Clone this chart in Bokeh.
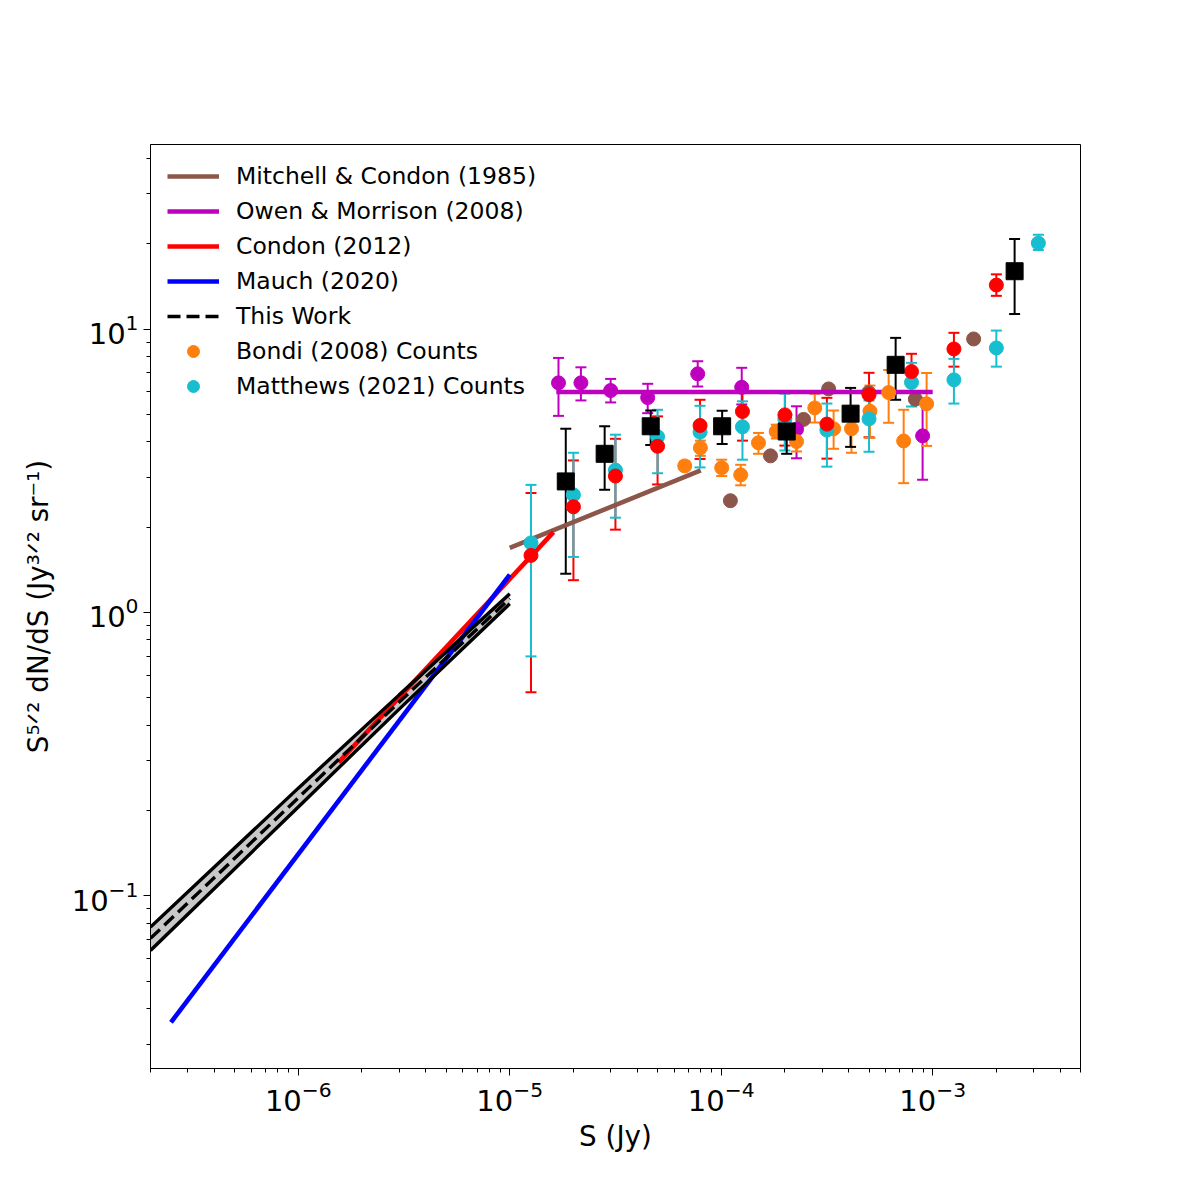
from bokeh.plotting import figure
from bokeh.models import ColumnDataSource, Range1d, Legend, LegendItem
from bokeh.embed import file_html
from bokeh.resources import INLINE

# ---------------- data ----------------
# This Work: counts (black squares)
tw_S = [1.84e-5, 2.81e-5, 4.64e-5, 1.01e-4, 2.04e-4, 4.09e-4, 6.68e-4, 2.44e-3]
tw_Y = [2.90, 3.63, 4.54, 4.54, 4.35, 5.03, 7.48, 16.0]
tw_hi = [4.45, 4.54, 5.16, 5.15, 5.00, 6.20, 9.31, 20.8]
tw_lo = [1.37, 2.71, 3.90, 3.93, 3.63, 3.84, 5.63, 11.3]

# Owen & Morrison (2008) counts (magenta)
om_S = [1.70e-5, 2.17e-5, 3.0e-5, 4.49e-5, 7.74e-5, 1.25e-4, 2.27e-4, 8.96e-4]
om_Y = [6.46, 6.46, 6.07, 5.73, 6.95, 6.23, 4.43, 4.20]
om_hi = [7.91, 7.33, 6.67, 6.41, 7.70, 7.30, 5.34, 5.69]
om_lo = [4.94, 5.60, 5.51, 5.05, 6.27, 5.42, 3.50, 2.94]

# Condon (2012) counts (red)
c12_S = [1.26e-5, 2.0e-5, 3.16e-5, 5.0e-5, 7.94e-5, 1.26e-4, 2.0e-4, 3.16e-4, 5.0e-4, 7.94e-4, 1.26e-3, 2.0e-3]
c12_Y = [1.59, 2.36, 3.03, 3.86, 4.57, 5.12, 4.98, 4.62, 5.87, 7.08, 8.51, 14.3]
c12_hi = [2.64, 3.44, 4.10, 4.92, 5.63, 6.02, 6.03, 5.72, 7.01, 8.18, 9.70, 15.6]
c12_lo = [0.523, 1.30, 1.96, 2.83, 3.48, 4.04, 3.88, 3.49, 4.15, 5.97, 7.37, 13.1]

# Matthews (2021) counts (cyan)
m21_S = [1.26e-5, 2.0e-5, 3.16e-5, 5.0e-5, 7.94e-5, 1.26e-4, 2.0e-4, 3.16e-4, 5.0e-4, 7.94e-4, 1.26e-3, 2.0e-3, 3.16e-3]
m21_Y = [1.76, 2.60, 3.18, 4.17, 4.33, 4.52, 4.81, 4.40, 4.82, 6.48, 6.62, 8.58, 20.1]
m21_hi = [2.82, 3.66, 4.24, 5.19, 5.36, 5.56, 5.92, 5.46, 5.60, 7.60, 7.85, 9.88, 21.5]
m21_lo = [0.70, 1.57, 2.16, 3.10, 3.25, 3.46, 3.73, 3.27, 3.69, 5.33, 5.46, 7.37, 19.0]

# Bondi (2008) counts (orange)
b08_S = [6.72e-5, 7.97e-5, 1.005e-4, 1.236e-4, 1.50e-4, 1.82e-4, 2.27e-4, 2.77e-4, 3.40e-4, 4.13e-4, 5.05e-4, 6.19e-4, 7.29e-4, 9.36e-4]
b08_Y = [3.29, 3.81, 3.24, 3.06, 3.97, 4.35, 4.01, 5.27, 4.45, 4.45, 5.13, 5.97, 4.03, 5.45]
b08_hi = [3.41, 4.04, 3.46, 3.32, 4.30, 4.60, 4.31, 5.91, 5.16, 4.83, 6.32, 7.17, 5.19, 7.00]
b08_lo = [3.18, 3.57, 3.03, 2.81, 3.63, 4.11, 3.70, 4.68, 3.78, 3.66, 4.13, 4.67, 2.86, 3.87]

# Mitchell & Condon (1985) counts (brown points)
mc_S = [1.105e-4, 1.71e-4, 2.45e-4, 3.22e-4, 4.98e-4, 8.28e-4, 1.562e-3]
mc_Y = [2.48, 3.57, 4.80, 6.15, 5.97, 5.66, 9.23]

# model curves
mc85_S = [1.0e-5, 8.0e-5]
mc85_Y = [1.69, 3.17]
om08_S = [1.66e-5, 1.0e-3]
om08_Y = [6.0, 6.0]
c12l_S = [1.55e-6, 1.61e-5]
c12l_Y = [0.296, 1.92]
m20_S = [2.5e-7, 1.0e-5]
m20_Y = [0.0358, 1.36]
twl_S = [2.0e-7, 1.0e-6, 3.0e-6, 1.0e-5]
twl_Y = [0.0708, 0.222, 0.483, 1.12]
twl_hi = [0.0776, 0.240, 0.512, 1.164]
twl_lo = [0.0642, 0.206, 0.456, 1.073]

# ---------------- figure ----------------
FONT = "DejaVu Sans"
p = figure(x_axis_type="log", y_axis_type="log",
           x_range=Range1d(2e-7, 5e-3), y_range=Range1d(0.0246, 44.8),
           frame_width=930, frame_height=924,
           min_border_left=150, min_border_right=104,
           min_border_top=144, min_border_bottom=116,
           output_backend="svg", toolbar_location=None)
p.xgrid.visible = False
p.ygrid.visible = False
p.outline_line_color = "black"
p.outline_line_width = 1
p.outline_line_alpha = 1
p.background_fill_color = "white"
p.border_fill_color = "white"

p.xaxis.axis_label = "S (Jy)"
p.yaxis.axis_label = "S\u2075\u141f\u00b2 dN/dS (Jy\u00b3\u141f\u00b2 sr\u207b\u00b9)"
for ax in (p.xaxis[0], p.yaxis[0]):
    ax.major_label_text_font = FONT
    ax.major_label_text_font_size = "29px"
    ax.major_label_text_color = "black"
    ax.axis_label_text_font = FONT
    ax.axis_label_text_font_size = "27.8px"
    ax.axis_label_text_font_style = "normal"
    ax.axis_label_text_color = "black"
    ax.axis_line_color = "black"
    ax.major_tick_line_color = "black"
    ax.minor_tick_line_color = "black"
    ax.major_tick_out = 7
    ax.major_tick_in = 0
    ax.minor_tick_out = 4
    ax.minor_tick_in = 0
p.xaxis.axis_label_standoff = 6
p.yaxis.axis_label_standoff = 14

C_BROWN = "#8c564b"
C_MAG = "#bf00bf"
C_RED = "#ff0000"
C_BLUE = "#0000ff"
C_ORANGE = "#ff7f0e"
C_CYAN = "#17becf"
LW = 4.6
MS = 14


def errbars(S, lo, hi, color):
    src = ColumnDataSource(dict(x=S, lo=lo, hi=hi))
    p.segment(x0="x", y0="lo", x1="x", y1="hi", source=src,
              line_color=color, line_width=2)
    p.scatter(x="x", y="lo", source=src, marker="dash", size=11,
              line_color=color, line_width=2)
    p.scatter(x="x", y="hi", source=src, marker="dash", size=11,
              line_color=color, line_width=2)


# error bars (below everything)
errbars(om_S, om_lo, om_hi, C_MAG)
errbars(c12_S, c12_lo, c12_hi, C_RED)
errbars(b08_S, b08_lo, b08_hi, C_ORANGE)
errbars(m21_S, m21_lo, m21_hi, C_CYAN)
errbars(tw_S, tw_lo, tw_hi, "black")

# brown points
p.scatter(mc_S, mc_Y, marker="circle", size=MS, fill_color=C_BROWN, line_color=C_BROWN)

# model lines
r_mc = p.line(mc85_S, mc85_Y, line_color=C_BROWN, line_width=LW)
r_om = p.line(om08_S, om08_Y, line_color=C_MAG, line_width=LW)
band_src = ColumnDataSource(dict(x=twl_S, y=twl_Y, lo=twl_lo, hi=twl_hi))
p.varea(x="x", y1="lo", y2="hi", source=band_src, fill_color="#c8c8c8")
r_c12 = p.line(c12l_S, c12l_Y, line_color=C_RED, line_width=LW)
r_m20 = p.line(m20_S, m20_Y, line_color=C_BLUE, line_width=LW)
p.line(x="x", y="lo", source=band_src, line_color="black", line_width=3.4)
p.line(x="x", y="hi", source=band_src, line_color="black", line_width=3.4)
r_tw = p.line(x="x", y="y", source=band_src, line_color="black", line_width=3.4,
              line_dash="13 6")

# markers
p.scatter(om_S, om_Y, marker="circle", size=MS, fill_color=C_MAG, line_color=C_MAG)
r_b08 = p.scatter(b08_S, b08_Y, marker="circle", size=MS, fill_color=C_ORANGE, line_color=C_ORANGE)
r_m21 = p.scatter(m21_S, m21_Y, marker="circle", size=MS, fill_color=C_CYAN, line_color=C_CYAN)
p.scatter(c12_S, c12_Y, marker="circle", size=MS, fill_color=C_RED, line_color=C_RED)
p.scatter(tw_S, tw_Y, marker="square", size=17, fill_color="black", line_color="black")

legend = Legend(items=[
    LegendItem(label="Mitchell & Condon (1985)", renderers=[r_mc]),
    LegendItem(label="Owen & Morrison (2008)", renderers=[r_om]),
    LegendItem(label="Condon (2012)", renderers=[r_c12]),
    LegendItem(label="Mauch (2020)", renderers=[r_m20]),
    LegendItem(label="This Work", renderers=[r_tw]),
    LegendItem(label="Bondi (2008) Counts", renderers=[r_b08]),
    LegendItem(label="Matthews (2021) Counts", renderers=[r_m21]),
], location="top_left")
legend.label_text_font = FONT
legend.label_text_font_size = "23.5px"
legend.label_text_color = "black"
legend.glyph_width = 52
legend.glyph_height = 30
legend.label_height = 30
legend.spacing = 5
legend.label_standoff = 17
legend.margin = 0
legend.padding = 17
legend.border_line_alpha = 0
legend.background_fill_alpha = 0
p.add_layout(legend)

open("out.html", "w").write(file_html(p, INLINE))
